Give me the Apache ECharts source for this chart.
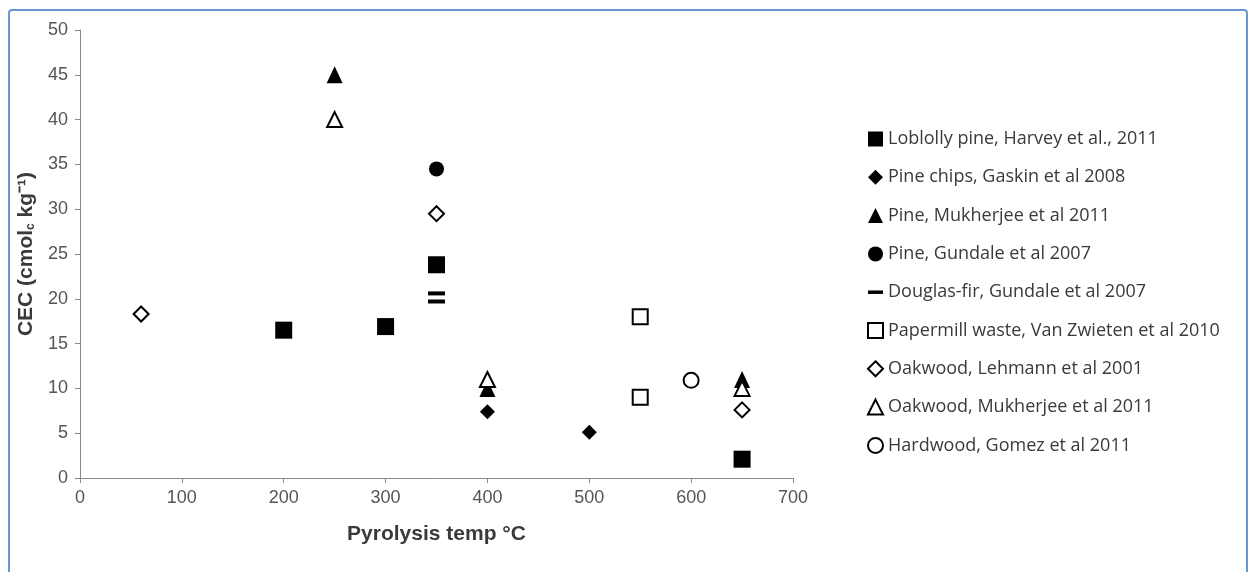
<!DOCTYPE html>
<html>
<head>
<meta charset="utf-8">
<script src="https://cdn.jsdelivr.net/npm/echarts@6/dist/echarts.min.js"></script>
<style>
html,body{margin:0;padding:0;background:#fff;}
#c{width:1250px;height:572px;}
</style>
</head>
<body>
<div id="c"></div>
<script>
// ---- data ----
const seriesNames = [
  "Loblolly pine, Harvey et al., 2011",
  "Pine chips, Gaskin et al 2008",
  "Pine, Mukherjee et al 2011",
  "Pine, Gundale et al 2007",
  "Douglas-fir, Gundale et al 2007",
  "Papermill waste, Van Zwieten et al 2010",
  "Oakwood, Lehmann et al 2001",
  "Oakwood, Mukherjee et al 2011",
  "Hardwood, Gomez et al 2011"
];
const loblollyPine = [[200, 16.5], [300, 16.9], [350, 23.8], [650, 2.1]];
const pineChips = [[400, 7.4], [500, 5.1]];
const pineMukherjee = [[250, 45], [400, 10], [650, 11]];
const pineGundale = [[350, 34.5]];
const douglasFir = [[350, 20.6], [350, 19.7]];
const papermill = [[550, 18], [550, 9]];
const oakLehmann = [[60, 18.3], [350, 29.5], [650, 7.6]];
const oakMukherjee = [[250, 40], [400, 11], [650, 10]];
const hardwoodGomez = [[600, 10.9]];
const xTicks = [0, 700, 100];
const yTicks = [0, 50, 5];

const filled = {color: '#000', opacity: 1};
const open = {color: '#fff', borderColor: '#000', borderWidth: 2, opacity: 1};
const dashIcon = 'path://M0,0 L15,0 L15,3.5 L0,3.5 Z';

const chart = echarts.init(document.getElementById('c'));
chart.setOption({
  animation: false,
  backgroundColor: '#fff',
  graphic: [{
    type: 'rect',
    shape: {x: 9, y: 10, width: 1238, height: 570, r: 3},
    style: {fill: 'none', stroke: '#6a97d4', lineWidth: 2},
    silent: true
  }],
  grid: {left: 80, right: 457, top: 30, bottom: 94},
  legend: {
    orient: 'vertical',
    left: 862,
    top: 125,
    itemWidth: 15,
    itemHeight: 15,
    itemGap: 20.3,
    textStyle: {fontFamily: 'Open Sans', fontSize: 18, lineHeight: 18, color: '#3a3a3a'},
    data: seriesNames.map(function (n, i) { return i === 4 ? {name: n, icon: dashIcon} : {name: n}; })
  },
  xAxis: {
    type: 'value',
    min: xTicks[0], max: xTicks[1], interval: xTicks[2],
    name: 'Pyrolysis temp °C',
    nameLocation: 'middle',
    nameGap: 46,
    nameTextStyle: {fontFamily: 'Liberation Sans', fontWeight: 'bold', fontSize: 21, color: '#3a3a3a'},
    axisLine: {lineStyle: {color: '#888', width: 1}},
    axisTick: {show: true, length: 5, lineStyle: {color: '#888'}},
    axisLabel: {fontFamily: 'Liberation Sans', fontSize: 18, color: '#555', margin: 11},
    splitLine: {show: false}
  },
  yAxis: {
    type: 'value',
    min: yTicks[0], max: yTicks[1], interval: yTicks[2],
    name: 'CEC (cmol{sub|c} kg⁻¹)',
    nameLocation: 'middle',
    nameGap: 35,
    nameRotate: 90,
    nameTextStyle: {
      fontFamily: 'Liberation Sans', fontWeight: 'bold', fontSize: 21, color: '#3a3a3a',
      rich: {sub: {fontFamily: 'Liberation Sans', fontWeight: 'bold', fontSize: 12, color: '#3a3a3a', verticalAlign: 'bottom', padding: [10, 0, 0, 0]}}
    },
    axisLine: {show: true, lineStyle: {color: '#888', width: 1}},
    axisTick: {show: true, length: 5, lineStyle: {color: '#888'}},
    axisLabel: {fontFamily: 'Liberation Sans', fontSize: 18, color: '#555', margin: 12},
    splitLine: {show: false}
  },
  series: [
    {name: seriesNames[0], type: 'scatter', data: loblollyPine, symbol: 'rect', symbolSize: 17, itemStyle: filled},
    {name: seriesNames[1], type: 'scatter', data: pineChips, symbol: 'diamond', symbolSize: 15, itemStyle: filled},
    {name: seriesNames[2], type: 'scatter', data: pineMukherjee, symbol: 'triangle', symbolSize: [16, 17], itemStyle: filled},
    {name: seriesNames[3], type: 'scatter', data: pineGundale, symbol: 'circle', symbolSize: 15, itemStyle: filled},
    {name: seriesNames[4], type: 'scatter', data: douglasFir, symbol: 'rect', symbolSize: [17, 4], itemStyle: filled},
    {name: seriesNames[5], type: 'scatter', data: papermill, symbol: 'rect', symbolSize: 15, itemStyle: open},
    {name: seriesNames[6], type: 'scatter', data: oakLehmann, symbol: 'diamond', symbolSize: 15, itemStyle: open},
    {name: seriesNames[7], type: 'scatter', data: oakMukherjee, symbol: 'triangle', symbolSize: [15, 15], itemStyle: open},
    {name: seriesNames[8], type: 'scatter', data: hardwoodGomez, symbol: 'circle', symbolSize: 15, itemStyle: open}
  ]
});
</script>
</body>
</html>
